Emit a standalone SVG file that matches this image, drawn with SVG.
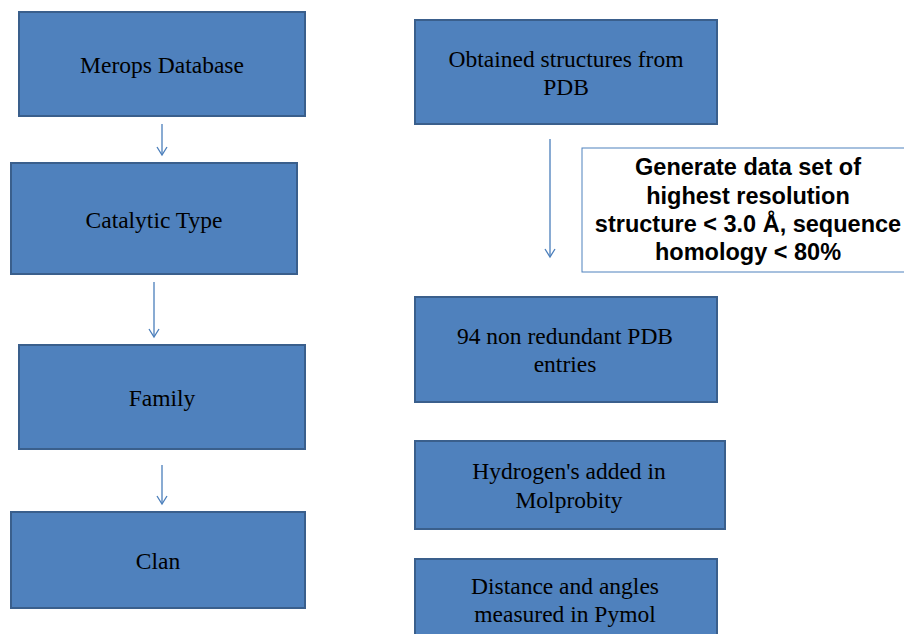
<svg xmlns="http://www.w3.org/2000/svg" width="904" height="634" viewBox="0 0 904 634">
<style>
.box{fill:#4F81BD;stroke:#3A5F8C;stroke-width:2}
.t{font-family:"Liberation Serif","Times New Roman",serif;font-size:23.5px;fill:#000;text-anchor:middle}
.b{font-family:"Liberation Sans",Arial,sans-serif;font-size:23.5px;font-weight:bold;fill:#000;text-anchor:middle}
.c{stroke:#4A7EBB;stroke-width:1.3;fill:none}
</style>
<rect width="904" height="634" fill="#fff"/>
<g id="connectors">
<line class="c" x1="162" y1="124" x2="162" y2="154"/>
<line class="c" x1="154" y1="282" x2="154" y2="336"/>
<line class="c" x1="162" y1="465" x2="162" y2="503"/>
<line class="c" x1="550" y1="139" x2="550" y2="256"/>
<polyline class="c" points="157,147 162,155 167,147"/>
<polyline class="c" points="149,329 154,337 159,329"/>
<polyline class="c" points="157,496 162,504 167,496"/>
<polyline class="c" points="545,249 550,257 555,249"/>
</g>
<g id="merops"><rect class="box" x="19" y="12" width="286" height="104"/><text class="t" x="162" y="73">Merops Database</text></g>
<g id="catalytic"><rect class="box" x="11" y="163" width="286" height="111"/><text class="t" x="154" y="228">Catalytic Type</text></g>
<g id="family"><rect class="box" x="19" y="345" width="286" height="104"/><text class="t" x="162" y="406">Family</text></g>
<g id="clan"><rect class="box" x="11" y="512" width="294" height="96"/><text class="t" x="158" y="569">Clan</text></g>
<g id="obtained"><rect class="box" x="415" y="20" width="302" height="104"/><text class="t" x="566" y="67">Obtained structures from</text><text class="t" x="566" y="95">PDB</text></g>
<g id="generate"><rect x="582" y="148" width="330" height="124" fill="#fff" stroke="#4F81BD" stroke-width="1"/>
<text class="b" x="748" y="175">Generate data set of</text>
<text class="b" x="748" y="204">highest resolution</text>
<text class="b" x="748" y="232">structure &lt; 3.0 Å, sequence</text>
<text class="b" x="748" y="260">homology &lt; 80%</text></g>
<g id="nonredundant"><rect class="box" x="415" y="297" width="302" height="105"/><text class="t" x="565" y="344">94 non redundant PDB</text><text class="t" x="565" y="372">entries</text></g>
<g id="hydrogen"><rect class="box" x="415" y="441" width="310" height="88"/><text class="t" x="569" y="479">Hydrogen's added in</text><text class="t" x="569" y="508">Molprobity</text></g>
<g id="distance"><rect class="box" x="415" y="559" width="302" height="90"/><text class="t" x="565" y="594">Distance and angles</text><text class="t" x="565" y="622">measured in Pymol</text></g>
</svg>
